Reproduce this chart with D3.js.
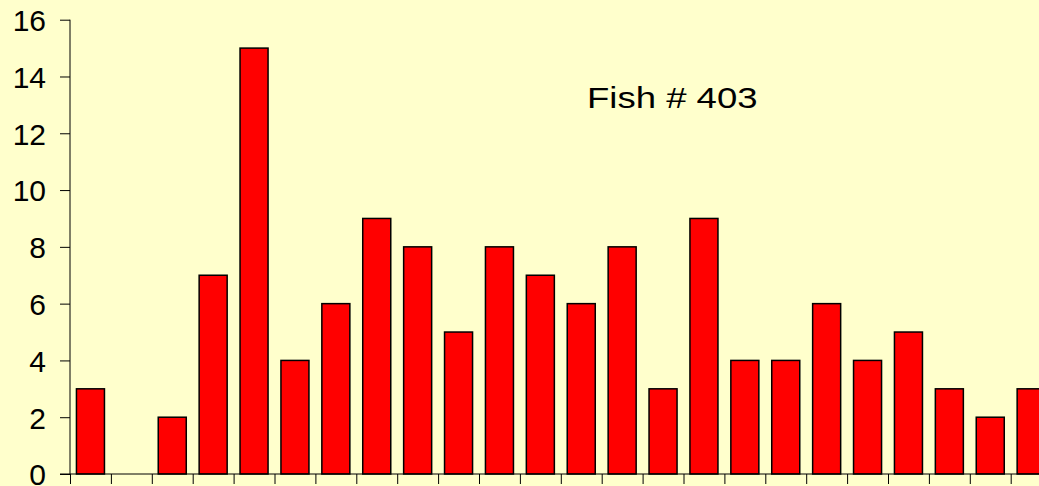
<!DOCTYPE html>
<html>
<head>
<meta charset="utf-8">
<script src="https://cdn.jsdelivr.net/npm/d3@7"></script>
<style>
  html, body { margin: 0; padding: 0; background: #ffffcc; overflow: hidden; }
  svg { display: block; }
  .axis text { font-family: "Liberation Sans", Arial, sans-serif; font-size: 30px; fill: #000; }
  .axis path, .axis line { stroke: #000; stroke-width: 1; }
</style>
</head>
<body>
<svg id="chart" width="1039" height="486"></svg>
<script>
// counts per class
var categories = d3.range(1, 25);
var counts = [3, 0, 2, 7, 15, 4, 6, 9, 8, 5, 8, 7, 6, 8, 3, 9, 4, 4, 6, 4, 5, 3, 2, 3];
var yTicks = [0, 2, 4, 6, 8, 10, 12, 14, 16];
var title = "Fish # 403";

var svg = d3.select("#chart");
var plotLeft = 70, plotTop = 19.7, plotBottom = 474, step = 40.9;
var plotRight = plotLeft + categories.length * step;

var x = d3.scaleBand().domain(categories).range([plotLeft, plotRight])
  .paddingInner(0.315).paddingOuter(0.1575);
var xEdge = d3.scaleLinear().domain([0, categories.length]).range([plotLeft, plotRight]);
var y = d3.scaleLinear().domain([0, 16]).range([plotBottom, plotTop]);

svg.append("g")
  .attr("class", "axis")
  .attr("transform", "translate(" + plotLeft + ",0)")
  .call(d3.axisLeft(y).tickValues(yTicks).tickSize(10).tickPadding(14).tickFormat(d3.format("d")))
  .call(function (g) { g.select(".domain").attr("d", "M0," + plotTop + "V" + plotBottom); })
  .selectAll("text").attr("dy", "0.36em");

svg.append("g")
  .selectAll("rect")
  .data(counts)
  .join("rect")
  .attr("x", function (d, i) { return x(categories[i]); })
  .attr("y", function (d) { return y(d); })
  .attr("width", x.bandwidth())
  .attr("height", function (d) { return plotBottom - y(d); })
  .attr("fill", "#ff0000")
  .attr("stroke", "#000")
  .attr("stroke-width", 1.5)
  .style("display", function (d) { return d > 0 ? null : "none"; });

svg.append("g")
  .attr("class", "axis")
  .attr("transform", "translate(0," + plotBottom + ")")
  .call(d3.axisBottom(xEdge).tickValues(d3.range(categories.length + 1)).tickSize(10).tickFormat(""))
  .call(function (g) { g.select(".domain").attr("d", "M" + (plotLeft - 10) + ",0H" + plotRight); });

svg.append("text")
  .attr("transform", "translate(587,108) scale(1.26,1)")
  .attr("font-family", "Liberation Sans, Arial, sans-serif")
  .attr("font-size", 29)
  .attr("fill", "#000")
  .text(title);
</script>
</body>
</html>
